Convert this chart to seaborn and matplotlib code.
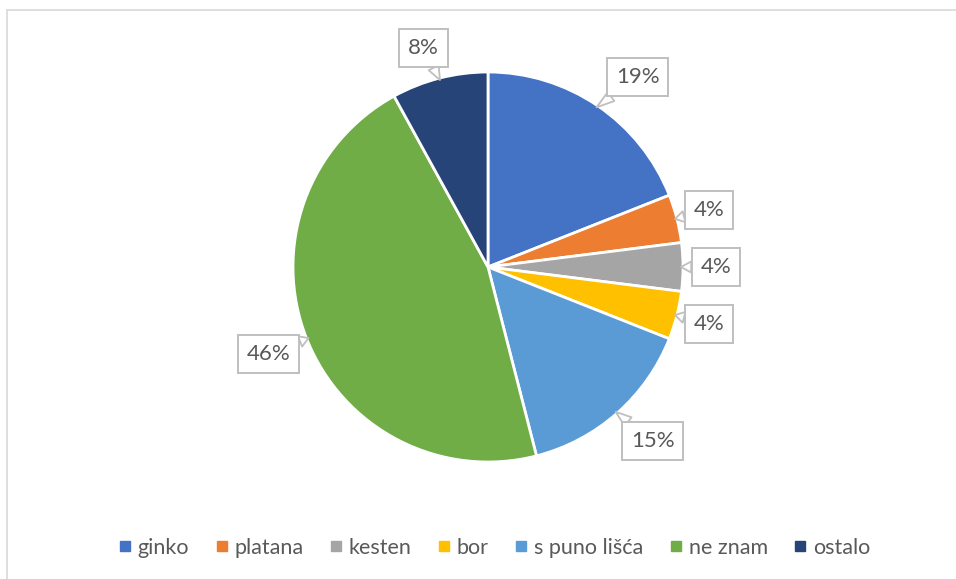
import numpy as np
import matplotlib
matplotlib.use("Agg")
import matplotlib.pyplot as plt
from matplotlib.lines import Line2D
import seaborn as sns

# data
categories = ["ginko", "platana", "kesten", "bor", "s puno lišća", "ne znam", "ostalo"]
shares = [19, 4, 4, 4, 15, 46, 8]
labels = ["19%", "4%", "4%", "4%", "15%", "46%", "8%"]
colors = ["#4472C4", "#ED7D31", "#A5A5A5", "#FFC000", "#5B9BD5", "#70AD47", "#264478"]

# callout placement per slice: distance from centre (radii), angle nudge (deg)
label_dist = [1.24, 1.17, 1.17, 1.17, 1.23, 1.21, 1.17]
label_nudge = [-4, 0, 0, 0, 2, 0, 2]

sns.set_theme(style="white")
plt.rcParams["font.family"] = ["Lato", "DejaVu Sans"]
TEXT = "#595959"

W, H = 956, 579
fig = plt.figure(figsize=(W / 100, H / 100), dpi=100)

# pie centre (488, 267) px, radius 195 px
cx, cy, r = 488 / W, 1 - 267 / H, 195
ax = fig.add_axes([cx - r / W, cy - r / H, 2 * r / W, 2 * r / H])

wedges, _ = ax.pie(shares, colors=colors, startangle=90, counterclock=False,
                   wedgeprops=dict(edgecolor="white", linewidth=2))
ax.set_xlim(-1, 1)
ax.set_ylim(-1, 1)
ax.set_aspect("equal")
ax.axis("off")

for w, lab, d, nudge in zip(wedges, labels, label_dist, label_nudge):
    mid = (w.theta1 + w.theta2) / 2
    ang = np.deg2rad(mid)
    lang = np.deg2rad(mid + nudge)
    tip = (0.99 * np.cos(ang), 0.99 * np.sin(ang))
    pos = (d * np.cos(lang), d * np.sin(lang))
    ax.annotate(lab, xy=tip, xytext=pos, ha="center", va="center",
                fontsize=16, color=TEXT, annotation_clip=False,
                bbox=dict(boxstyle="square,pad=0.4", fc="white", ec="#BFBFBF", lw=1.4),
                arrowprops=dict(arrowstyle="wedge,tail_width=0.5,shrink_factor=0.5",
                                fc="white", ec="#BFBFBF", lw=1.3, shrinkA=0, shrinkB=0))

# legend
handles = [Line2D([], [], marker="s", linestyle="none", markersize=6.5,
                  markerfacecolor=c, markeredgecolor=c) for c in colors]
leg = fig.legend(handles, categories, loc="center", bbox_to_anchor=(0.517, 1 - 548 / H),
                 ncol=len(categories), frameon=False, fontsize=15.5,
                 handlelength=0.6, handletextpad=0.3, columnspacing=1.2)
for t in leg.get_texts():
    t.set_color(TEXT)

# chart area border (top and left visible)
fig.add_artist(Line2D([7 / W, 1], [1 - 10 / H, 1 - 10 / H], color="#D9D9D9", lw=1.2))
fig.add_artist(Line2D([7 / W, 7 / W], [0, 1 - 10 / H], color="#D9D9D9", lw=1.2))

fig.savefig("out.png", dpi=100, facecolor="white")
